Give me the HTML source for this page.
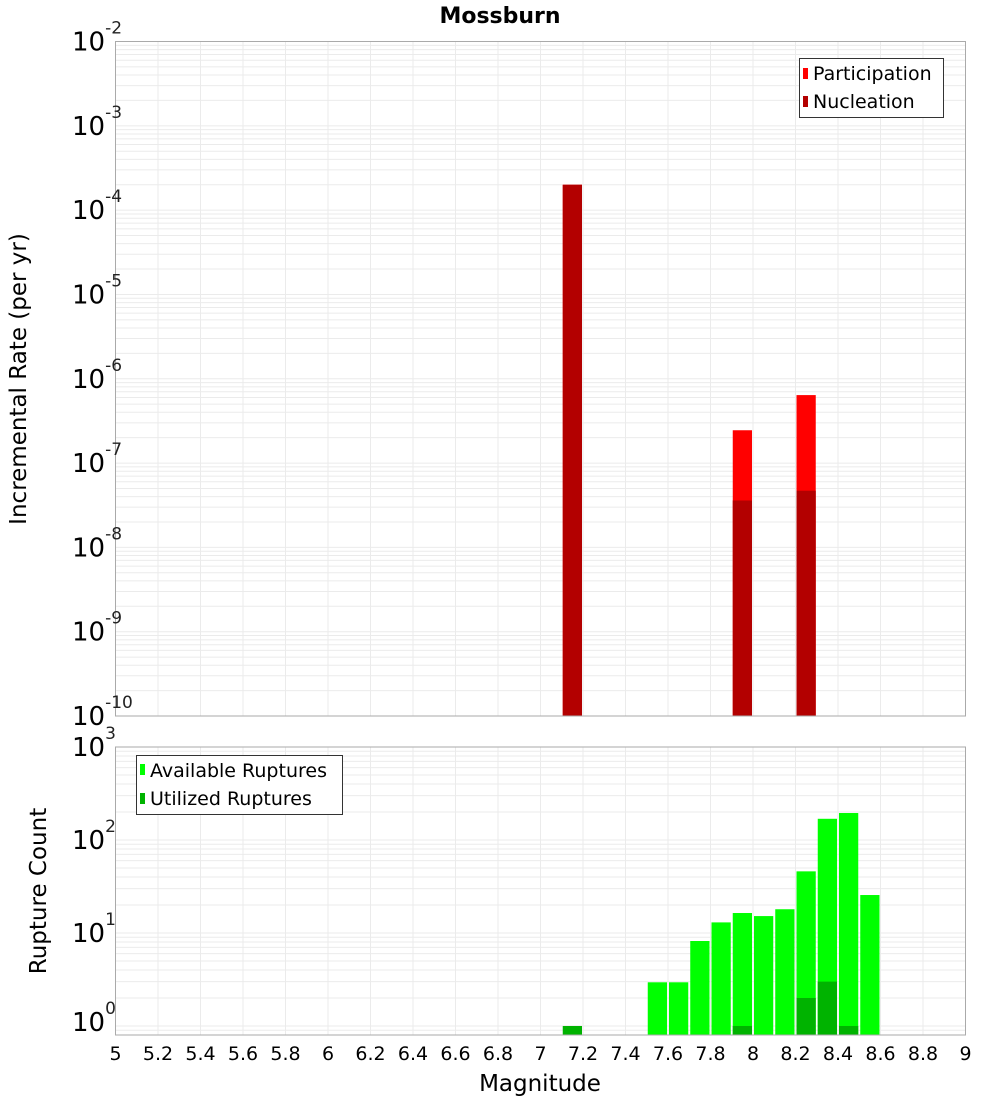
<!DOCTYPE html>
<html><head><meta charset="utf-8"><style>
body{margin:0;background:#fff;}
svg{display:block;font-family:"DejaVu Sans","Liberation Sans",sans-serif;}
</style></head><body>
<svg id="c" width="1000" height="1100"></svg>
<script>
const topMags=[7.1,7.9,8.2];
const participation=[2.0e-4,2.45e-7,6.4e-7];
const nucleation=[2.0e-4,3.6e-8,4.7e-8];
const botMags=[7.5,7.6,7.7,7.8,7.9,8.0,8.1,8.2,8.3,8.4,8.5];
const available=[2.95,2.95,8.2,13,16.4,15.2,18,46,169,195,25.6];
const utilMags=[7.1,7.9,8.2,8.3,8.4];
const utilized=[1,1,2,3,1];
const xTicks=[5,5.2,5.4,5.6,5.8,6,6.2,6.4,6.6,6.8,7,7.2,7.4,7.6,7.8,8,8.2,8.4,8.6,8.8,9];
const topExps=[-2,-3,-4,-5,-6,-7,-8,-9,-10];
const botExps=[3,2,1,0];

const NS='http://www.w3.org/2000/svg';
const svg=document.getElementById('c');
function el(t,a,p){const e=document.createElementNS(NS,t);for(const k in a)e.setAttribute(k,a[k]);(p||svg).appendChild(e);return e;}
const L=115.5,R=965.5;
const X=m=>L+(m-5)*(R-L)/4;
const T1=41.5,B1=716;
const Y1=v=>T1+(-2-Math.log10(v))*(B1-T1)/8;
const T2=747,B2=1035,D2=93;
const Y2=v=>B2-(Math.log10(v)-Math.log10(0.8))*D2;

function grid(top,bot,yf,lo,hi){
  const g=el('g',{});
  
  
  for(let e=lo;e<hi;e++)for(let k=1;k<10;k++){const y=yf(k*Math.pow(10,e));if(y>=top&&y<=bot)el('line',{x1:L,x2:R,y1:y,y2:y,stroke:'#ebebeb','stroke-width':1},g);}
  xTicks.forEach(t=>{const x=X(t);el('line',{x1:x,x2:x,y1:top,y2:bot,stroke:'#ebebeb'},g);});
}
grid(T1,B1,Y1,-10,-2);
grid(T2,B2,Y2,-1,3);

topMags.forEach((m,i)=>{
  const x=X(m)+1,w=X(m+0.1)-X(m)-2;
  const p=el('rect',{x:x,y:Y1(participation[i]),width:w,height:B1-Y1(participation[i]),fill:'#ff0000'});
  
  
  const n=el('rect',{x:x,y:Y1(nucleation[i]),width:w,height:B1-Y1(nucleation[i]),fill:'#b30000'});
  
  
});
botMags.forEach((m,i)=>{
  const x=X(m)+1,w=X(m+0.1)-X(m)-2;
  const r=el('rect',{x:x,y:Y2(available[i]),width:w,height:B2-Y2(available[i]),fill:'#00ff00'});
  
  
});
utilMags.forEach((m,i)=>{
  const x=X(m)+1,w=X(m+0.1)-X(m)-2;
  const r=el('rect',{x:x,y:Y2(utilized[i]),width:w,height:B2-Y2(utilized[i]),fill:'#00b300'});
  
  
});
el('rect',{x:L,y:T1,width:R-L,height:B1-T1,fill:'none',stroke:'#aaa'});
el('rect',{x:L,y:T2,width:R-L,height:B2-T2,fill:'none',stroke:'#aaa'});

function powLabel(e,y){
  const t=el('text',{x:72,y:y+9,'font-size':26,fill:'#000'});
  
  
  t.textContent='10';
  const s=el('tspan',{dy:-17,'font-size':17,fill:'#222'},t);s.textContent=String(e);
}
topExps.forEach(e=>powLabel(e,Y1(Math.pow(10,e))));
botExps.forEach(e=>powLabel(e,e===0?1022:Y2(Math.pow(10,e))));

xTicks.forEach(t=>{
  const tx=el('text',{x:X(t),y:1060,'font-size':19,'text-anchor':'middle'});
  
  
  tx.textContent=String(t);
});
</script>
<svg style="position:absolute;left:0;top:0" width="1000" height="1100">
<text x="500" y="23" font-size="22" font-weight="bold" text-anchor="middle" font-family="DejaVu Sans,Liberation Sans,sans-serif">Mossburn</text>
<text x="540" y="1091" font-size="23" text-anchor="middle" font-family="DejaVu Sans,Liberation Sans,sans-serif">Magnitude</text>
<text transform="translate(26,379) rotate(-90)" font-size="23" text-anchor="middle" font-family="DejaVu Sans,Liberation Sans,sans-serif">Incremental Rate (per yr)</text>
<text transform="translate(46,891) rotate(-90)" font-size="23" text-anchor="middle" font-family="DejaVu Sans,Liberation Sans,sans-serif">Rupture Count</text>
<g font-family="DejaVu Sans,Liberation Sans,sans-serif" font-size="19">
<rect x="799.5" y="58.5" width="144" height="59" fill="#fff" stroke="#333"/>
<rect x="803" y="68" width="5" height="11" fill="#ff0000"/><text x="813" y="80">Participation</text>
<rect x="803" y="96" width="5" height="11" fill="#b30000"/><text x="813" y="108">Nucleation</text>
</g>
<g font-family="DejaVu Sans,Liberation Sans,sans-serif" font-size="19">
<rect x="136.5" y="755.5" width="206" height="59" fill="#fff" stroke="#333"/>
<rect x="140" y="764" width="5" height="11" fill="#00ff00"/><text x="150" y="777">Available Ruptures</text>
<rect x="140" y="793" width="5" height="11" fill="#00b300"/><text x="150" y="805">Utilized Ruptures</text>
</g>
</svg>
</body></html>
